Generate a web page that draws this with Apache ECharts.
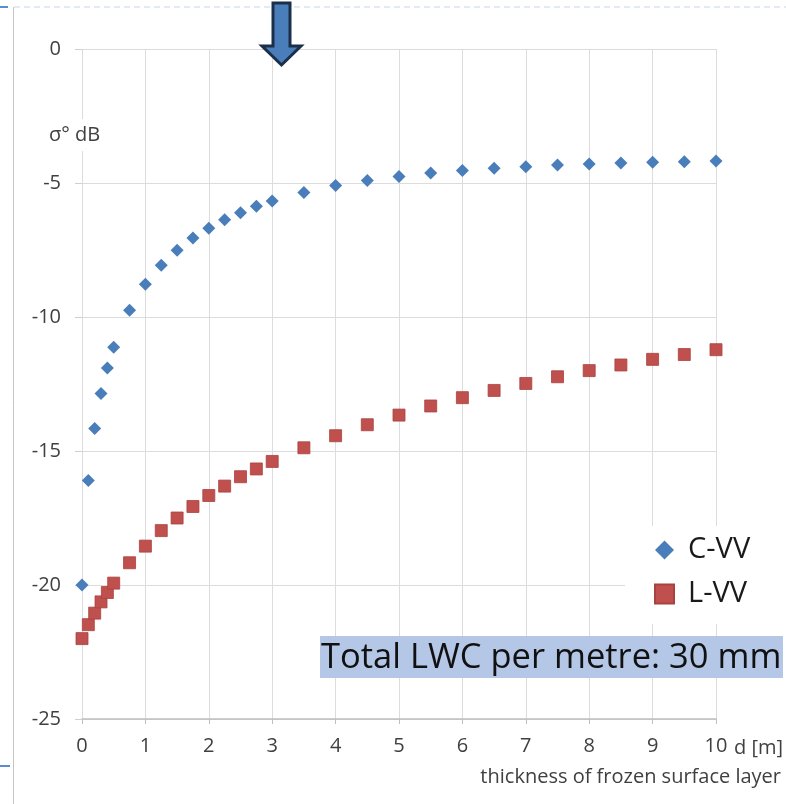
<!DOCTYPE html>
<html>
<head>
<meta charset="utf-8">
<script src="https://cdn.jsdelivr.net/npm/echarts@6/dist/echarts.min.js"></script>
<style>
  html, body { margin: 0; padding: 0; background: #fff; }
  #chart { width: 786px; height: 804px; }
</style>
</head>
<body>
<div id="chart"></div>
<script>
// thickness of frozen surface layer, d [m]
var thickness = [0, 0.1, 0.2, 0.3, 0.4, 0.5, 0.75, 1, 1.25, 1.5, 1.75, 2, 2.25, 2.5, 2.75, 3,
    3.5, 4, 4.5, 5, 5.5, 6, 6.5, 7, 7.5, 8, 8.5, 9, 9.5, 10];
// backscatter sigma0 in dB
var cVV = [-20.0, -16.1, -14.16, -12.85, -11.9, -11.13, -9.75, -8.78, -8.07, -7.51, -7.05, -6.69,
    -6.37, -6.11, -5.87, -5.67, -5.35, -5.09, -4.91, -4.76, -4.63, -4.53, -4.45, -4.39, -4.33,
    -4.29, -4.25, -4.23, -4.21, -4.18];
var lVV = [-22.0, -21.48, -21.05, -20.63, -20.28, -19.93, -19.17, -18.55, -17.97, -17.5, -17.07,
    -16.66, -16.31, -15.96, -15.67, -15.39, -14.88, -14.43, -14.02, -13.66, -13.32, -13.01,
    -12.74, -12.48, -12.23, -12.0, -11.79, -11.58, -11.4, -11.22];
var seriesNames = ['C-VV', 'L-VV'];

var font = '"Open Sans", Lato, sans-serif';

function pairs(ys) {
    return thickness.map(function (x, i) {
        return [x, ys[i]];
    });
}

var chart = echarts.init(document.getElementById('chart'));

var option = {
    animation: false,
    backgroundColor: '#fff',
    grid: {
        left: 82,
        right: 70,
        top: 49,
        bottom: 85
    },
    legend: {
        orient: 'vertical',
        left: 625,
        top: 526,
        backgroundColor: '#fff',
        padding: [8, 18, 14, 29],
        itemWidth: 19,
        itemHeight: 19,
        itemGap: 12,
        textStyle: {
            fontFamily: font,
            fontSize: 29,
            lineHeight: 32,
            padding: [0, 0, 0, 9],
            color: '#1a1a1a'
        },
        data: seriesNames
    },
    xAxis: {
        type: 'value',
        min: 0,
        max: 10,
        interval: 1,
        axisLine: { show: true, onZero: false, lineStyle: { color: '#bfbfbf', width: 1.5 } },
        axisTick: { show: true, length: 5, lineStyle: { color: '#bfbfbf' } },
        axisLabel: {
            margin: 17,
            fontFamily: font,
            fontSize: 20,
            color: '#404040'
        },
        splitLine: { show: true, lineStyle: { color: '#dcdcdc' } }
    },
    yAxis: {
        type: 'value',
        min: -25,
        max: 0,
        interval: 5,
        axisLine: { show: false },
        axisTick: { show: true, length: 7, lineStyle: { color: '#d0d0d0' } },
        axisLabel: {
            margin: 21,
            fontFamily: font,
            fontSize: 20,
            color: '#404040'
        },
        splitLine: { show: true, lineStyle: { color: '#dcdcdc' } }
    },
    series: [
        {
            name: seriesNames[0],
            type: 'scatter',
            symbol: 'diamond',
            symbolSize: 13,
            itemStyle: { color: '#4a7ebb', opacity: 1 },
            z: 3,
            data: pairs(cVV)
        },
        {
            name: seriesNames[1],
            type: 'scatter',
            symbol: 'rect',
            symbolSize: 12,
            itemStyle: { color: '#c0504d', borderColor: '#a84240', borderWidth: 0.8, opacity: 1 },
            z: 3,
            data: pairs(lVV)
        }
    ],
    graphic: [
        // slide frame remnants
        { type: 'line', shape: { x1: 14, y1: 7, x2: 786, y2: 7 }, style: { stroke: '#c9d5ea', lineWidth: 1, lineDash: [6, 4] } },
        { type: 'line', shape: { x1: 0, y1: 7, x2: 8, y2: 7 }, style: { stroke: '#5b8bd0', lineWidth: 2 } },
        { type: 'line', shape: { x1: 13.5, y1: 7, x2: 13.5, y2: 804 }, style: { stroke: '#c4c4c4', lineWidth: 1 } },
        { type: 'line', shape: { x1: 0, y1: 766, x2: 10, y2: 766 }, style: { stroke: '#5b8bd0', lineWidth: 2 } },
        // y axis title
        { type: 'rect', shape: { x: 46, y: 119, width: 62, height: 32 }, style: { fill: '#fff' }, z: 5 },
        {
            type: 'text', x: 49, y: 135, z: 6,
            style: { text: 'σ° dB', fontFamily: font, fontSize: 20, fill: '#404040', verticalAlign: 'middle' }
        },
        // unit after last x label
        {
            type: 'text', x: 734, y: 748, z: 6,
            style: { text: 'd [m]', fontFamily: font, fontSize: 20, fill: '#404040', verticalAlign: 'middle' }
        },
        {
            type: 'text', x: 781, y: 777, z: 6,
            style: { text: 'thickness of frozen surface layer', fontFamily: font, fontSize: 20, fill: '#404040', align: 'right', verticalAlign: 'middle' }
        },
        // LWC note
        { type: 'rect', shape: { x: 320, y: 636, width: 463, height: 42 }, style: { fill: '#b4c7e7' }, z: 5 },
        {
            type: 'text', x: 321, y: 658, z: 6,
            style: { text: 'Total LWC per metre: 30 mm', fontFamily: font, fontSize: 34.5, fill: '#111', verticalAlign: 'middle' }
        },
        // arrow marking d = 3 m
        {
            type: 'polygon', z: 6,
            shape: { points: [[273, 3], [290, 3], [290, 46], [301, 46], [281.5, 65], [262, 46], [273, 46]] },
            style: { fill: '#4a7ebb', stroke: '#1b2f4b', lineWidth: 3, lineJoin: 'miter' }
        }
    ]
};

chart.setOption(option);
</script>
</body>
</html>
